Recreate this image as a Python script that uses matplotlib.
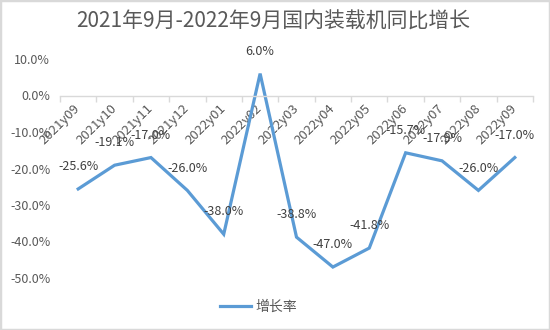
import matplotlib
matplotlib.use('Agg')
import matplotlib.pyplot as plt
from matplotlib.patches import Rectangle
from matplotlib.ticker import FixedLocator

plt.rcParams['font.family'] = ['Noto Sans CJK SC', 'DejaVu Sans']

title = '2021年9月-2022年9月国内装载机同比增长'
months = ['2021y09', '2021y10', '2021y11', '2021y12', '2022y01', '2022y02', '2022y03',
          '2022y04', '2022y05', '2022y06', '2022y07', '2022y08', '2022y09']
growth = [-25.6, -19.1, -17.0, -26.0, -38.0, 6.0, -38.8, -47.0, -41.8, -15.7, -17.9, -26.0, -17.0]
yticks = [10, 0, -10, -20, -30, -40, -50]
series_name = '增长率'

blue = '#5B9BD5'
gray_txt = '#595959'
axis_gray = '#D9D9D9'

fig = plt.figure(figsize=(5.5, 3.3), dpi=100)
ax = fig.add_axes([60 / 550, 1 - 278 / 330, (533 - 60) / 550, (278 - 59) / 330])

x = list(range(len(months)))
ax.plot(x, growth, color=blue, lw=2.3, solid_joinstyle='miter', label=series_name)

for xi, v in zip(x, growth):
    ax.annotate(f'{v:.1f}%', (xi, v), xytext=(0, 16), textcoords='offset points',
                ha='center', va='center', fontsize=9, color='#404040')

ax.set_xlim(-0.5, len(months) - 0.5)
ax.set_ylim(-50, 10)

# x axis sits on zero, like Excel
for s in ['left', 'right', 'top']:
    ax.spines[s].set_visible(False)
ax.spines['bottom'].set_position(('data', 0))
ax.spines['bottom'].set_color(axis_gray)
ax.spines['bottom'].set_linewidth(1)

ax.set_xticks(x)
ax.set_xticklabels(months, rotation=45, ha='right', va='center',
                   rotation_mode='anchor', fontsize=9.5, color=gray_txt)
ax.tick_params(axis='x', which='major', length=0, pad=8)
ax.xaxis.set_minor_locator(FixedLocator([i - 0.5 for i in range(len(months) + 1)]))
ax.tick_params(axis='x', which='minor', length=4, color=axis_gray, width=1)

ax.set_yticks(yticks)
ax.set_yticklabels([f'{t:.1f}%' for t in yticks], fontsize=9, color=gray_txt)
ax.tick_params(axis='y', length=0, pad=7)

fig.text(0.497, 1 - 22 / 330, title, ha='center', va='center', fontsize=15, color=gray_txt)

fig.legend(loc='center', bbox_to_anchor=(0.47, 1 - 307 / 330), frameon=False,
           fontsize=10, handlelength=2.2, handletextpad=0.3, labelcolor=gray_txt)

fig.patches.append(Rectangle((0, 0), 1, 1, transform=fig.transFigure, fill=False,
                             edgecolor=axis_gray, lw=2.5))

fig.savefig('out.png', dpi=100, facecolor='white')
